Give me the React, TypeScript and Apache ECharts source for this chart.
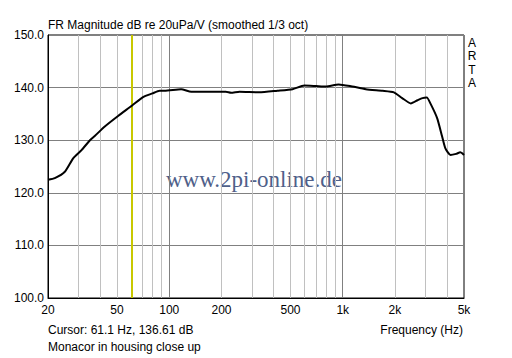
import React, { useEffect, useRef } from "react";
import * as echarts from "echarts";

const freqsHz = [20, 21.9, 25, 28, 31.2, 34.9, 37.2, 42.5, 50.7, 61.1, 70.6, 80, 88, 94, 117, 134, 212, 227, 254, 330, 420, 514, 600, 700, 800, 946, 1100, 1358, 1700, 1972, 2200, 2468, 2700, 2880, 3050, 3200, 3500, 3740, 3900, 4180, 4500, 4760, 5000];
const magnitudeDb = [122.5, 122.8, 124.0, 126.6, 128.1, 130.0, 130.8, 132.6, 134.6, 136.6, 138.2, 138.9, 139.4, 139.4, 139.7, 139.2, 139.2, 139.0, 139.2, 139.1, 139.4, 139.7, 140.4, 140.3, 140.2, 140.6, 140.3, 139.7, 139.4, 139.1, 138.0, 137.0, 137.6, 138.0, 138.1, 137.0, 134.2, 130.7, 128.5, 127.2, 127.4, 127.7, 127.2];

const minorGridHz = [30, 40, 50, 60, 70, 80, 90, 200, 300, 400, 500, 600, 700, 800, 900, 2000, 3000, 4000];
const majorGridHz = [100, 1000];
const xTickValues = [20, 50, 100, 200, 500, 1000, 2000, 5000];
const xTickLabels = ["20", "50", "100", "200", "500", "1k", "2k", "5k"];
const cursorHz = 61.1;

const titleText = "FR Magnitude dB re 20uPa/V (smoothed 1/3 oct)";
const cursorText = "Cursor: 61.1 Hz, 136.61 dB";
const noteText = "Monacor in housing close up";
const xAxisName = "Frequency (Hz)";
const watermark = "www.2pi-online.de";

const FONT = "'Liberation Sans', Arial, sans-serif";

export default function App() {
  const ref = useRef<HTMLDivElement>(null);
  useEffect(() => {
    if (!ref.current) return;
    const chart = echarts.init(ref.current, null, { renderer: "svg" });

    const gridItems: any[] = [];
    minorGridHz.forEach((v) =>
      gridItems.push({ xAxis: v, lineStyle: { color: "#c0c0c0", width: 1, type: "solid" }, label: { show: false } })
    );
    majorGridHz.forEach((v) =>
      gridItems.push({ xAxis: v, lineStyle: { color: "#808080", width: 1, type: "solid" }, label: { show: false } })
    );
    const labelItems: any[] = xTickValues.map((v, i) => ({
      xAxis: v,
      lineStyle: { color: "rgba(0,0,0,0)", width: 0 },
      label: {
        show: true,
        position: "start",
        distance: 6,
        formatter: () => xTickLabels[i],
        color: "#000",
        fontFamily: FONT,
        fontSize: 12,
      },
    }));
    const cursorItem = {
      xAxis: cursorHz,
      lineStyle: { color: "#c8c800", width: 2, type: "solid" },
      label: { show: false },
    };

    chart.setOption({
      animation: false,
      backgroundColor: "#fff",
      grid: {
        left: 48,
        top: 35,
        width: 416,
        height: 263,
        show: true,
        borderColor: "#000",
        borderWidth: 1,
        backgroundColor: "transparent",
      },
      xAxis: {
        type: "log",
        logBase: 10,
        min: 20,
        max: 5000,
        axisLine: { show: true, lineStyle: { color: "#000", width: 1 } },
        axisTick: { show: false },
        axisLabel: { show: false },
        splitLine: { show: false },
      },
      yAxis: {
        type: "value",
        min: 100,
        max: 150,
        interval: 10,
        axisLine: { show: true, lineStyle: { color: "#000", width: 1 } },
        axisTick: { show: false },
        axisLabel: {
          color: "#000",
          fontFamily: FONT,
          fontSize: 12,
          margin: 4,
          formatter: (v: number) => v.toFixed(1),
        },
        splitLine: { show: true, lineStyle: { color: "#808080", width: 1 } },
      },
      graphic: [
        {
          type: "text",
          x: 48,
          y: 25,
          style: { text: titleText, fill: "#000", font: `12px ${FONT}`, textVerticalAlign: "middle" },
        },
        {
          type: "text",
          x: 472,
          y: 36,
          style: {
            text: "A\nR\nT\nA",
            fill: "#000",
            font: `12px ${FONT}`,
            lineHeight: 13.5,
            textAlign: "center",
          },
        },
        {
          type: "text",
          x: 48,
          y: 330,
          style: { text: cursorText, fill: "#000", font: `12px ${FONT}`, textVerticalAlign: "middle" },
        },
        {
          type: "text",
          x: 48,
          y: 347,
          style: { text: noteText, fill: "#000", font: `12px ${FONT}`, textVerticalAlign: "middle" },
        },
        {
          type: "text",
          x: 463,
          y: 330,
          style: {
            text: xAxisName,
            fill: "#000",
            font: `12px ${FONT}`,
            textAlign: "right",
            textVerticalAlign: "middle",
          },
        },
        {
          type: "text",
          x: 254,
          y: 179,
          z: 1,
          style: {
            text: watermark,
            fill: "#4f6089",
            font: `23px 'Liberation Serif', 'Times New Roman', serif`,
            textAlign: "center",
            textVerticalAlign: "middle",
          },
        },
      ],
      series: [
        {
          type: "line",
          data: [],
          z: 1,
          silent: true,
          markLine: {
            silent: true,
            symbol: ["none", "none"],
            animation: false,
            data: [...gridItems, ...labelItems, cursorItem],
          },
        },
        {
          type: "line",
          z: 5,
          data: freqsHz.map((f, i) => [f, magnitudeDb[i]]),
          showSymbol: false,
          smooth: 0.2,
          lineStyle: { color: "#000", width: 2 },
          itemStyle: { color: "#000" },
          silent: true,
        },
      ],
    });
    return () => chart.dispose();
  }, []);
  return (
    <div
      ref={ref}
      style={{ position: "absolute", left: 0, top: 0, width: 512, height: 358 }}
    />
  );
}
